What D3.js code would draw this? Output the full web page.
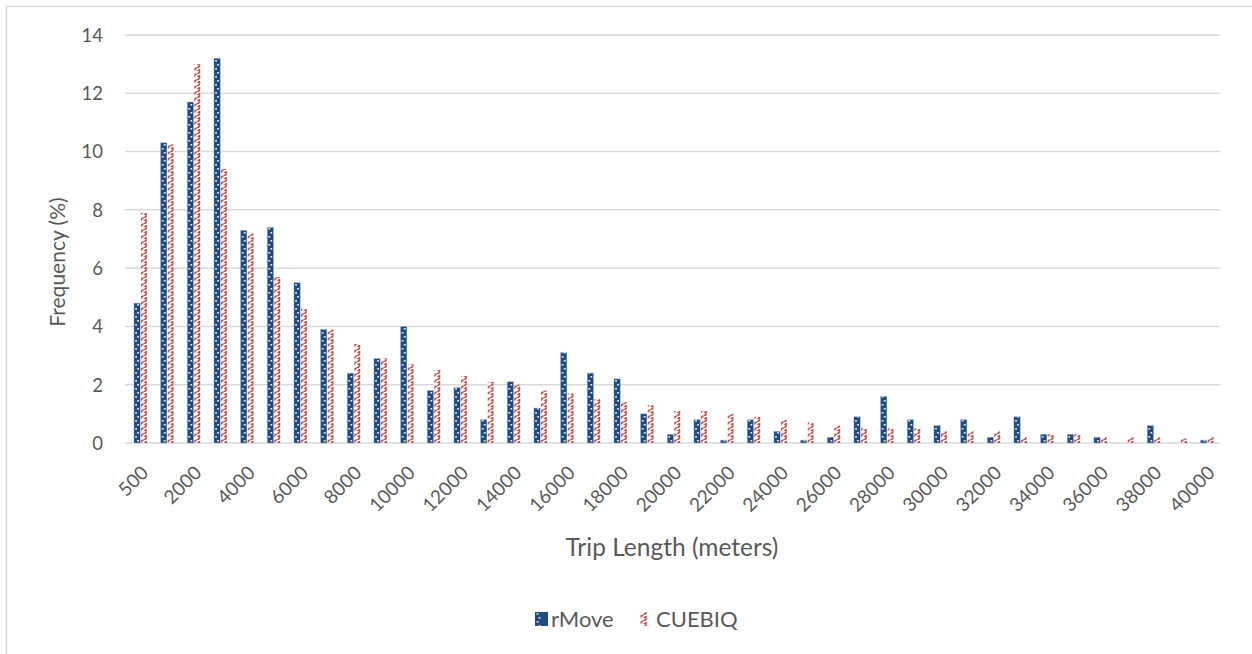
<!DOCTYPE html>
<html>
<head>
<meta charset="utf-8">
<script src="https://cdn.jsdelivr.net/npm/d3@7"></script>
<style>
  html, body { margin: 0; padding: 0; background: #fff; }
  svg { display: block; }
  text { font-family: Lato, "Open Sans", sans-serif; fill: #595959; }
</style>
</head>
<body>
<svg id="chart" width="1252" height="654"></svg>
<script>
// Trip length bins (meters)
const categories = ["500", "1000", "2000", "3000", "4000", "5000", "6000", "7000", "8000", "9000",
  "10000", "11000", "12000", "13000", "14000", "15000", "16000", "17000", "18000", "19000",
  "20000", "21000", "22000", "23000", "24000", "25000", "26000", "27000", "28000", "29000",
  "30000", "31000", "32000", "33000", "34000", "35000", "36000", "37000", "38000", "39000", "40000"];

// Frequency (%) per bin
const rMove = [4.8, 10.3, 11.7, 13.2, 7.3, 7.4, 5.5, 3.9, 2.4, 2.9,
  4.0, 1.8, 1.9, 0.8, 2.1, 1.2, 3.1, 2.4, 2.2, 1.0,
  0.3, 0.8, 0.1, 0.8, 0.4, 0.1, 0.2, 0.9, 1.6, 0.8,
  0.6, 0.8, 0.2, 0.9, 0.3, 0.3, 0.2, 0, 0.6, 0, 0.1];
const cuebiq = [7.9, 10.25, 13.0, 9.4, 7.2, 5.7, 4.6, 3.9, 3.4, 2.9,
  2.7, 2.5, 2.3, 2.1, 2.0, 1.8, 1.7, 1.5, 1.4, 1.3,
  1.1, 1.1, 1.0, 0.9, 0.8, 0.7, 0.6, 0.5, 0.5, 0.5,
  0.4, 0.4, 0.4, 0.2, 0.3, 0.3, 0.2, 0.2, 0.2, 0.15, 0.2];

// Labelled bins on the x axis and y ticks
const xTickLabels = ["500", "2000", "4000", "6000", "8000", "10000", "12000", "14000", "16000", "18000",
  "20000", "22000", "24000", "26000", "28000", "30000", "32000", "34000", "36000", "38000", "40000"];
const yTicks = [0, 2, 4, 6, 8, 10, 12, 14];

const seriesNames = ["rMove", "CUEBIQ"];

const svg = d3.select("#chart");
const W = 1252, H = 654;
const plot = { left: 127.2, right: 1220.5, top: 35, bottom: 443 };

const x = d3.scaleBand().domain(categories).range([plot.left, plot.right]).paddingInner(0).paddingOuter(0);
const y = d3.scaleLinear().domain([0, 14]).range([plot.bottom, plot.top]);
const barW = 6.3;
const step = x.step();

const BLUE = "#214A7E";
const RED = "#C0504D";

// Outer frame
svg.append("rect")
  .attr("x", 6.5).attr("y", 6.5).attr("width", W + 20).attr("height", H + 20)
  .attr("fill", "#fff").attr("stroke", "#D9D9D9").attr("stroke-width", 1.5);

// Fill patterns: dotted navy and hatched red
const defs = svg.append("defs");

function dotPattern(id, x0, y0, w) {
  const p = defs.append("pattern").attr("id", id)
    .attr("patternUnits", "userSpaceOnUse")
    .attr("x", x0).attr("y", y0).attr("width", w).attr("height", 8);
  p.append("rect").attr("width", w).attr("height", 8).attr("fill", BLUE);
  p.append("rect").attr("x", 1.3).attr("y", 1).attr("width", 1.6).attr("height", 1.6).attr("fill", "#fff");
  p.append("rect").attr("x", 3.3).attr("y", 5).attr("width", 1.6).attr("height", 1.6).attr("fill", "#fff");
}
function hatchPattern(id, x0, y0, w) {
  const p = defs.append("pattern").attr("id", id)
    .attr("patternUnits", "userSpaceOnUse")
    .attr("x", x0).attr("y", y0).attr("width", w).attr("height", 6);
  p.append("rect").attr("width", w).attr("height", 6).attr("fill", "#fff");
  p.append("path").attr("d", "M0,3.6 L1.2,2.4 L2.8,2.4 L4.6,0.6 L4.6,0 L6.4,0 L6.4,1.4 L4.8,3 L3.2,3 L0.4,6 L0,6 Z").attr("fill", RED);
  p.append("path").attr("d", "M2.6,6 L4.6,4 L6.4,4 L6.4,6 Z").attr("fill", RED);
}

const blueX = d => x(d) + step / 2 - barW - 0.3;
const redX = d => x(d) + step / 2 + 0.3;
dotPattern("pat-rmove", blueX(categories[0]), plot.bottom, step);
hatchPattern("pat-cuebiq", redX(categories[0]), plot.bottom, step);

// Gridlines
svg.append("g").selectAll("line").data(yTicks).join("line")
  .attr("x1", 125).attr("x2", plot.right)
  .attr("y1", d => y(d)).attr("y2", d => y(d))
  .attr("stroke", "#D9D9D9").attr("stroke-width", 1.5);

// Y axis labels
const yAxis = d3.axisLeft(y).tickValues(yTicks).tickSize(0).tickPadding(0).tickFormat(d3.format("d"));
const gy = svg.append("g").attr("transform", "translate(103,0)").call(yAxis);
gy.select(".domain").remove();
gy.selectAll("text").style("font-size", "18.5px").style("font-family", "Lato, sans-serif").attr("fill", "#595959").attr("dy", "0.34em");

// Bars
const bars = svg.append("g");
bars.selectAll("rect.rmove").data(categories).join("rect").attr("class", "rmove")
  .attr("x", d => blueX(d)).attr("width", barW)
  .attr("y", (d, i) => y(rMove[i])).attr("height", (d, i) => y(0) - y(rMove[i]))
  .attr("fill", "url(#pat-rmove)")
  .attr("stroke", (d, i) => rMove[i] > 0 ? "#9FB3CE" : "none").attr("stroke-width", 0.5);
bars.selectAll("rect.cuebiq").data(categories).join("rect").attr("class", "cuebiq")
  .attr("x", d => redX(d)).attr("width", barW)
  .attr("y", (d, i) => y(cuebiq[i])).attr("height", (d, i) => y(0) - y(cuebiq[i]))
  .attr("fill", "url(#pat-cuebiq)");

// X axis labels (every other bin), rotated
const xAxis = d3.axisBottom(x).tickValues(xTickLabels).tickSize(0).tickPadding(0);
const gx = svg.append("g").attr("transform", `translate(0,${plot.bottom})`).call(xAxis);
gx.select(".domain").remove();
gx.selectAll("text")
  .style("font-size", "19px").style("font-family", "Lato, sans-serif").attr("fill", "#595959")
  .attr("text-anchor", "end")
  .attr("dy", null)
  .attr("transform", "translate(9,31) rotate(-45)")
  .attr("y", 0).attr("x", 0);

// Axis titles
svg.append("text").attr("transform", "translate(65,262) rotate(-90)")
  .attr("text-anchor", "middle").style("font-size", "21px").text("Frequency (%)");
svg.append("text").attr("x", 672).attr("y", 556)
  .attr("text-anchor", "middle").style("font-size", "24.5px").text("Trip Length (meters)");

// Legend
const legend = svg.append("g");
const legendItems = [
  { name: seriesNames[0], x: 535, pat: "leg-rmove", make: dotPattern },
  { name: seriesNames[1], x: 640, pat: "leg-cuebiq", make: hatchPattern }
];
legendItems.forEach(it => {
  it.make(it.pat, it.x + 0.5, 612, 13);
  legend.append("rect").attr("x", it.x).attr("y", 612).attr("width", 13).attr("height", 14)
    .attr("fill", `url(#${it.pat})`);
  legend.append("text").attr("x", it.x + 16).attr("y", 626.5)
    .style("font-size", "22px").text(it.name);
});
</script>
</body>
</html>
